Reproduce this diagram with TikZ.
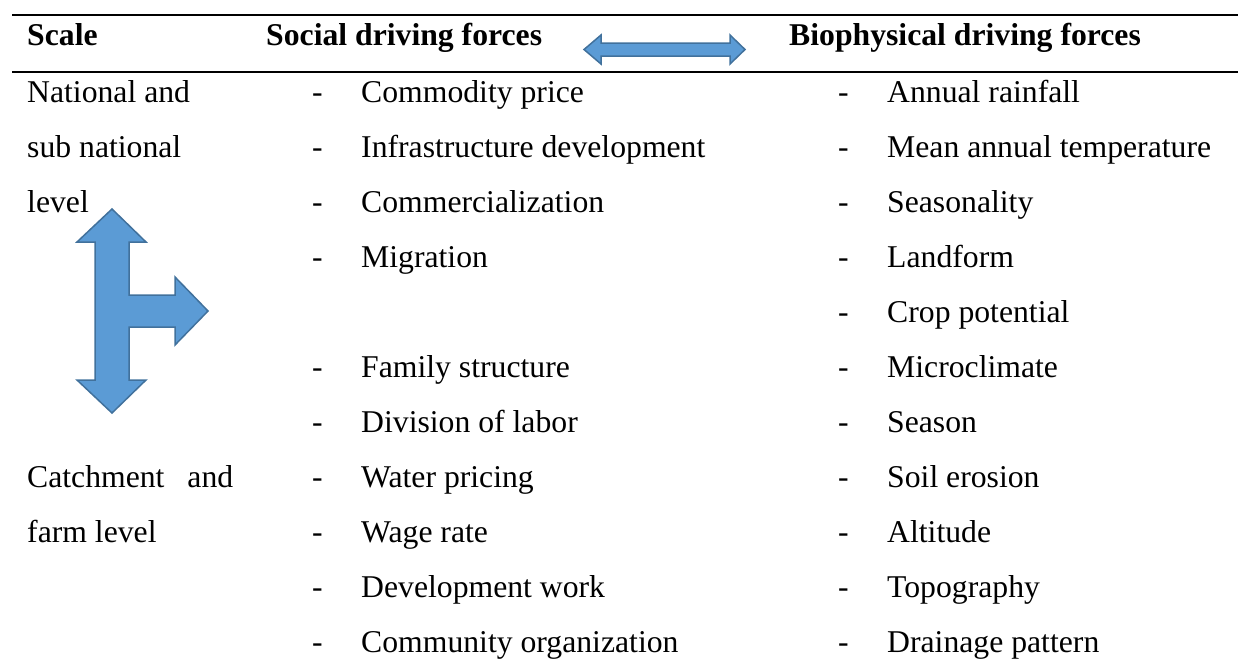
\documentclass[tikz,border=0pt]{standalone}
\usepackage{fontspec}
\setmainfont{Liberation Serif}
\definecolor{arrfill}{RGB}{91,155,213}
\definecolor{arrdraw}{RGB}{65,113,156}
\begin{document}
\begin{tikzpicture}[x=1pt,y=-1pt,
  txt/.style={anchor=base west,inner sep=0pt,font=\fontsize{31.7}{38}\selectfont},
  hdr/.style={txt,font=\fontsize{31.7}{38}\selectfont\bfseries},
  rule/.style={line width=2.2pt,black},
  blockarrow/.style={fill=arrfill,draw=arrdraw,line width=1.5pt,line join=miter}]
\useasboundingbox (0,0) rectangle (1238,670);
% rules
\coordinate (r1l) at (12,15); \coordinate (r1r) at (1238,15);
\coordinate (r2l) at (12,72); \coordinate (r2r) at (1238,72);
\draw[rule] (r1l) -- (r1r);
\draw[rule] (r2l) -- (r2r);
% header
\node[hdr] (hscale) at (27,45) {Scale};
\node[hdr] (hsocial) at (266,45) {Social driving forces};
\node[hdr] (hbio) at (789,45) {Biophysical driving forces};
% header double arrow
\draw[blockarrow] (584,49.5) -- (601,35) -- (601,43) -- (730,43) -- (730,35) -- (745,49.5)
  -- (730,64) -- (730,56) -- (601,56) -- (601,64) -- cycle;
% scale column
\node[txt] (s0) at (27,102) {National and};
\node[txt] (s1) at (27,157) {sub national};
\node[txt] (s2) at (27,212) {level};
\node[txt] (s7) at (27,487) {\hbox to 206pt{Catchment\hfill and}};
\node[txt] (s8) at (27,542) {farm level};
% T arrow
\draw[blockarrow] (112,209) -- (146,242) -- (129,242) -- (129,295) -- (175,295) -- (175,277)
  -- (208,311) -- (175,345) -- (175,327) -- (129,327) -- (129,380) -- (146,380)
  -- (112,413) -- (77,380) -- (95,380) -- (95,242) -- (77,242) -- cycle;
% social column
\foreach \i/\t in {0/Commodity price,1/Infrastructure development,2/Commercialization,3/Migration,5/Family structure,6/Division of labor,7/Water pricing,8/Wage rate,9/Development work,10/Community organization}{
  \node[txt] (sd\i) at (312,102+55*\i) {-};
  \node[txt] (st\i) at (361,102+55*\i) {\t};
}
% biophysical column
\foreach \i/\t in {0/Annual rainfall,1/Mean annual temperature,2/Seasonality,3/Landform,4/Crop potential,5/Microclimate,6/Season,7/Soil erosion,8/Altitude,9/Topography,10/Drainage pattern}{
  \node[txt] (bd\i) at (838,102+55*\i) {-};
  \node[txt] (bt\i) at (887,102+55*\i) {\t};
}
\end{tikzpicture}
\end{document}
